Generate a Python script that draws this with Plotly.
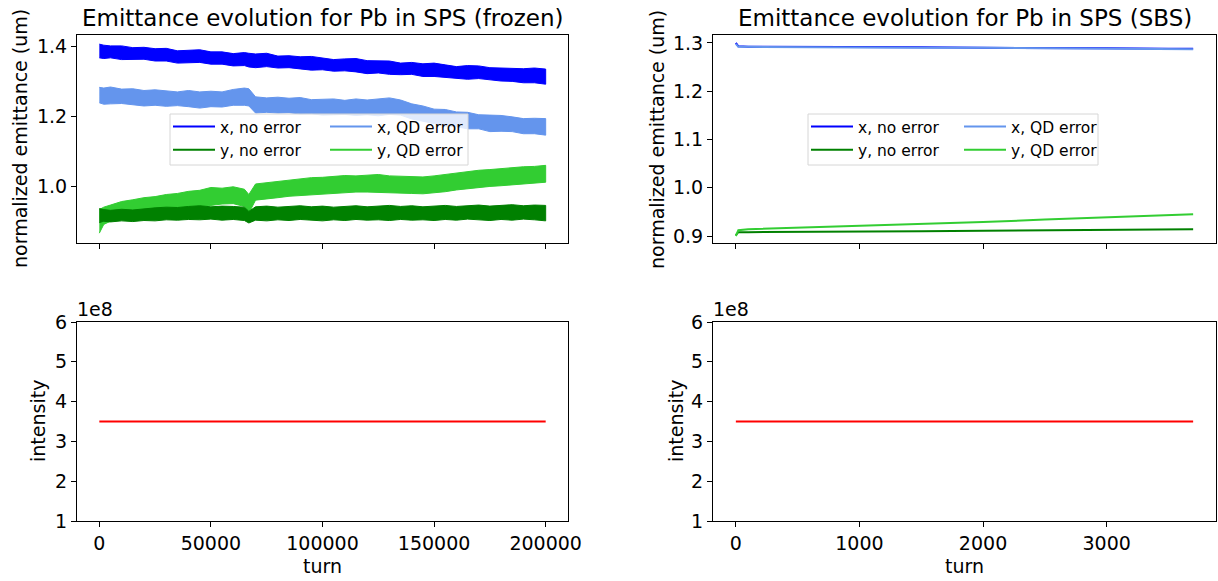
import plotly.graph_objects as go

# ---- data: frozen model (band envelopes of the noisy turn-by-turn emittance)
turns_frozen = [0, 2000, 5000, 10000, 15000, 20000, 25000, 30000, 35000, 40000, 45000,
                50000, 55000, 60000, 65000, 67000, 70000, 75000, 80000, 85000, 90000,
                95000, 100000, 105000, 110000, 115000, 120000, 125000, 130000, 135000,
                140000, 145000, 150000, 155000, 160000, 165000, 170000, 175000, 180000,
                185000, 190000, 195000, 200000]

ex_noerr_hi = [1.406, 1.403, 1.401, 1.401, 1.396, 1.397, 1.393, 1.394, 1.387, 1.389, 1.390,
               1.384, 1.384, 1.379, 1.382, 1.380, 1.378, 1.380, 1.372, 1.373, 1.370,
               1.371, 1.367, 1.362, 1.364, 1.365, 1.359, 1.358, 1.358, 1.352,
               1.354, 1.350, 1.352, 1.347, 1.342, 1.345, 1.344, 1.339, 1.338,
               1.339, 1.336, 1.338, 1.335]
ex_noerr_lo = [1.367, 1.365, 1.367, 1.362, 1.363, 1.363, 1.358, 1.358, 1.352, 1.354, 1.354,
               1.349, 1.349, 1.344, 1.345, 1.341, 1.339, 1.342, 1.338, 1.339, 1.336,
               1.332, 1.333, 1.329, 1.330, 1.327, 1.322, 1.324, 1.320, 1.319,
               1.320, 1.314, 1.314, 1.313, 1.309, 1.306, 1.308, 1.305, 1.301,
               1.300, 1.296, 1.296, 1.292]

ex_qd_hi = [1.283, 1.281, 1.284, 1.278, 1.279, 1.274, 1.276, 1.274, 1.270, 1.274, 1.270,
            1.272, 1.270, 1.277, 1.281, 1.279, 1.256, 1.253, 1.255, 1.252, 1.254,
            1.248, 1.250, 1.250, 1.246, 1.250, 1.247, 1.249, 1.253, 1.247,
            1.236, 1.230, 1.221, 1.220, 1.213, 1.212, 1.205, 1.204, 1.203,
            1.199, 1.194, 1.195, 1.194]
ex_qd_lo = [1.239, 1.235, 1.236, 1.237, 1.233, 1.230, 1.232, 1.229, 1.231, 1.228, 1.224,
            1.228, 1.227, 1.232, 1.232, 1.230, 1.210, 1.212, 1.210, 1.211, 1.207,
            1.208, 1.204, 1.205, 1.206, 1.203, 1.205, 1.202, 1.206, 1.204,
            1.193, 1.187, 1.180, 1.173, 1.171, 1.165, 1.165, 1.157, 1.158,
            1.157, 1.151, 1.151, 1.147]

ey_noerr_hi = [0.938, 0.935, 0.933, 0.936, 0.934, 0.938, 0.940, 0.942, 0.941, 0.944, 0.946,
               0.943, 0.945, 0.944, 0.942, 0.930, 0.943, 0.945, 0.942, 0.944, 0.946,
               0.943, 0.945, 0.942, 0.944, 0.946, 0.943, 0.945, 0.947, 0.944,
               0.946, 0.943, 0.945, 0.947, 0.944, 0.946, 0.948, 0.945, 0.947,
               0.949, 0.946, 0.948, 0.947]
ey_noerr_lo = [0.898, 0.902, 0.900, 0.903, 0.901, 0.904, 0.903, 0.906, 0.905, 0.907, 0.906,
               0.908, 0.905, 0.907, 0.904, 0.897, 0.905, 0.903, 0.906, 0.904, 0.907,
               0.905, 0.903, 0.906, 0.904, 0.907, 0.905, 0.906, 0.904, 0.907,
               0.905, 0.906, 0.904, 0.907, 0.905, 0.908, 0.906, 0.904, 0.907,
               0.905, 0.908, 0.906, 0.903]

ey_qd_hi = [0.935, 0.942, 0.948, 0.958, 0.963, 0.969, 0.972, 0.978, 0.981, 0.987, 0.990,
            0.998, 0.996, 1.000, 0.993, 0.978, 1.008, 1.012, 1.016, 1.019, 1.022,
            1.026, 1.027, 1.030, 1.032, 1.031, 1.034, 1.035, 1.031, 1.030,
            1.027, 1.028, 1.031, 1.035, 1.040, 1.043, 1.047, 1.049, 1.052,
            1.053, 1.057, 1.058, 1.061]
ey_qd_lo = [0.868, 0.893, 0.902, 0.909, 0.917, 0.921, 0.926, 0.929, 0.934, 0.938, 0.943,
            0.947, 0.951, 0.952, 0.944, 0.925, 0.962, 0.966, 0.969, 0.973, 0.975,
            0.978, 0.980, 0.982, 0.983, 0.985, 0.985, 0.986, 0.985, 0.982,
            0.981, 0.980, 0.982, 0.986, 0.991, 0.995, 0.998, 1.001, 1.003,
            1.005, 1.008, 1.010, 1.013]

# ---- data: SBS model
turns_sbs = [0, 20, 100, 500, 1000, 1500, 2000, 2500, 3000, 3500, 3700]
sbs_ex_noerr = [1.300, 1.293, 1.292, 1.292, 1.291, 1.291, 1.290, 1.290, 1.289, 1.288, 1.288]
sbs_ex_qd = [1.298, 1.292, 1.292, 1.291, 1.291, 1.290, 1.290, 1.289, 1.289, 1.288, 1.287]
sbs_ey_noerr = [0.902, 0.908, 0.908, 0.909, 0.910, 0.910, 0.911, 0.912, 0.913, 0.914, 0.914]
sbs_ey_qd = [0.900, 0.912, 0.914, 0.917, 0.921, 0.925, 0.929, 0.934, 0.938, 0.943, 0.945]

# ---- data: intensity
int_turns_frozen = [0, 200000]
int_frozen = [3.5e8, 3.5e8]
int_turns_sbs = [0, 3700]
int_sbs = [3.5e8, 3.5e8]

labels = ["x, no error", "x, QD error", "y, no error", "y, QD error"]
colors = ["#0000ff", "#6495ed", "#008000", "#32cd32"]

W, H = 1218, 581
FONT = "DejaVu Sans"

def px(v):
    return v / W

def py(v):
    return 1 - v / H

left_col = [px(77), px(568)]
right_col = [px(713), px(1216)]
top_row = [py(243), py(35)]
bot_row = [py(521), py(322)]

fig = go.Figure()

# top-left: frozen bands (drawn as filled envelopes)
bands = [(ex_noerr_hi, ex_noerr_lo, colors[0]),
         (ex_qd_hi, ex_qd_lo, colors[1]),
         (ey_qd_hi, ey_qd_lo, colors[3]),
         (ey_noerr_hi, ey_noerr_lo, colors[2])]
for hi, lo, c in bands:
    fig.add_trace(go.Scatter(x=turns_frozen + turns_frozen[::-1], y=hi + lo[::-1],
                             fill="toself", fillcolor=c, mode="lines",
                             line=dict(color=c, width=1), showlegend=False,
                             hoverinfo="skip", xaxis="x", yaxis="y"))

# top-right: SBS lines
sbs = [sbs_ex_noerr, sbs_ey_noerr, sbs_ex_qd, sbs_ey_qd]
sbs_cols = [colors[0], colors[2], colors[1], colors[3]]
for ys, c in zip(sbs, sbs_cols):
    fig.add_trace(go.Scatter(x=turns_sbs, y=ys, mode="lines", line=dict(color=c, width=2),
                             showlegend=False, xaxis="x2", yaxis="y2"))

# legend entries (two columns per panel, each column its own legend)
legend_names = [("legend", "legend2", "x", "y"), ("legend3", "legend4", "x2", "y2")]
for lg1, lg2, xa, ya in legend_names:
    for i, (name, c) in enumerate(zip(labels, colors)):
        fig.add_trace(go.Scatter(x=[None], y=[None], mode="lines", name=name,
                                 line=dict(color=c, width=2),
                                 legend=lg1 if i in (0, 2) else lg2,
                                 xaxis=xa, yaxis=ya))

# bottom: intensity
fig.add_trace(go.Scatter(x=int_turns_frozen, y=int_frozen, mode="lines",
                         line=dict(color="red", width=2), showlegend=False,
                         xaxis="x3", yaxis="y3"))
fig.add_trace(go.Scatter(x=int_turns_sbs, y=int_sbs, mode="lines",
                         line=dict(color="red", width=2), showlegend=False,
                         xaxis="x4", yaxis="y4"))

axis_style = dict(showline=True, linecolor="black", linewidth=1, mirror=True,
                  ticks="outside", ticklen=5, tickwidth=1, tickcolor="black",
                  showgrid=False, zeroline=False, automargin=False,
                  tickfont=dict(family=FONT, size=19, color="black"))

ticks_frozen = [0, 50000, 100000, 150000, 200000]
ticks_sbs = [0, 1000, 2000, 3000]
int_ticks = [1e8, 2e8, 3e8, 4e8, 5e8, 6e8]

fig.update_layout(
    xaxis=dict(domain=left_col, anchor="y", range=[-10000, 210000], tickvals=ticks_frozen,
               showticklabels=False, **axis_style),
    yaxis=dict(domain=top_row, anchor="x", range=[0.840, 1.432], tickvals=[1.0, 1.2, 1.4],
               ticktext=["1.0", "1.2", "1.4"], **axis_style),
    xaxis2=dict(domain=right_col, anchor="y2", range=[-185, 3885], tickvals=ticks_sbs,
                showticklabels=False, **axis_style),
    yaxis2=dict(domain=top_row, anchor="x2", range=[0.8855, 1.3165],
                tickvals=[0.9, 1.0, 1.1, 1.2, 1.3],
                ticktext=["0.9", "1.0", "1.1", "1.2", "1.3"], **axis_style),
    xaxis3=dict(domain=left_col, anchor="y3", range=[-10000, 210000], tickvals=ticks_frozen,
                ticktext=[str(t) for t in ticks_frozen], **axis_style),
    yaxis3=dict(domain=bot_row, anchor="x3", range=[1e8, 6e8], tickvals=int_ticks,
                ticktext=["1", "2", "3", "4", "5", "6"], **axis_style),
    xaxis4=dict(domain=right_col, anchor="y4", range=[-185, 3885], tickvals=ticks_sbs,
                ticktext=[str(t) for t in ticks_sbs], **axis_style),
    yaxis4=dict(domain=bot_row, anchor="x4", range=[1e8, 6e8], tickvals=int_ticks,
                ticktext=["1", "2", "3", "4", "5", "6"], **axis_style),
    width=W, height=H, autosize=False,
    margin=dict(l=0, r=0, t=0, b=0, pad=0),
    paper_bgcolor="white", plot_bgcolor="white",
    font=dict(family=FONT, color="black"),
)

leg_style = dict(orientation="v", xanchor="left", yanchor="top", bgcolor="rgba(0,0,0,0)",
                 borderwidth=0, font=dict(family=FONT, size=15.5, color="black"),
                 tracegroupgap=0, itemwidth=42)
fig.update_layout(
    legend=dict(x=px(168), y=py(110), **leg_style),
    legend2=dict(x=px(325), y=py(110), **leg_style),
    legend3=dict(x=px(806), y=py(110), **leg_style),
    legend4=dict(x=px(959), y=py(110), **leg_style),
)

# legend frames
for x0, x1 in [(170, 468), (808, 1098)]:
    fig.add_shape(type="rect", xref="paper", yref="paper", x0=px(x0), x1=px(x1),
                  y0=py(165), y1=py(114), line=dict(color="#d6d6d6", width=1),
                  fillcolor="rgba(255,255,255,0.8)", layer="above")

# titles
titles = [("Emittance evolution for Pb in SPS (frozen)", left_col),
          ("Emittance evolution for Pb in SPS (SBS)", right_col)]
for text, dom in titles:
    fig.add_annotation(text=text, xref="paper", yref="paper", x=sum(dom) / 2, y=py(18),
                       showarrow=False, xanchor="center", yanchor="middle",
                       font=dict(family=FONT, size=23, color="black"))

# axis labels
for xc, yc, text in [(20, 139, "normalized emittance (um)"), (657, 139, "normalized emittance (um)"),
                     (38, 421, "intensity"), (676, 421, "intensity")]:
    fig.add_annotation(text=text, xref="paper", yref="paper", x=px(xc), y=py(yc),
                       textangle=-90, showarrow=False, xanchor="center", yanchor="middle",
                       font=dict(family=FONT, size=19, color="black"))
for dom in [left_col, right_col]:
    fig.add_annotation(text="turn", xref="paper", yref="paper", x=sum(dom) / 2, y=py(566),
                       showarrow=False, xanchor="center", yanchor="middle",
                       font=dict(family=FONT, size=19, color="black"))
    # offset text for the intensity axis
    fig.add_annotation(text="1e8", xref="paper", yref="paper", x=dom[0], y=bot_row[1],
                       showarrow=False, xanchor="left", yanchor="bottom", xshift=-2,
                       font=dict(family=FONT, size=19, color="black"))

fig.write_html("out.html", config={"responsive": False, "displayModeBar": False},
               post_script="document.body.style.margin='0';document.body.style.overflow='hidden';")
